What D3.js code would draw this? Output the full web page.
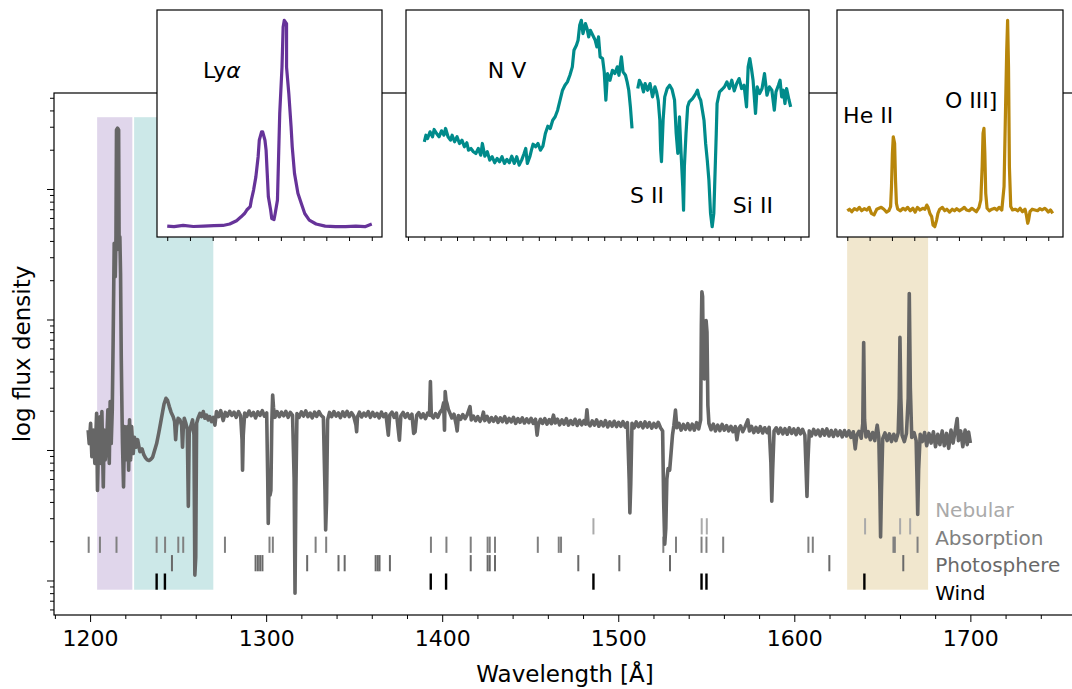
<!DOCTYPE html>
<html>
<head>
<meta charset="utf-8">
<script src="https://cdn.jsdelivr.net/npm/d3@7"></script>
<style>
  body { margin: 0; background: #fff; }
  text { font-family: "DejaVu Sans", sans-serif; }
</style>
</head>
<body>
<script>
// main spectrum: [wavelength (Å), flux (arb.)]
const spectrum = [
  [1198.9,1.42],[1199.5,1.12],[1200.3,1.60],[1201.0,0.89],[1201.8,1.42],[1202.7,0.79],[1203.7,1.91],[1204.2,0.49],
  [1204.8,1.12],[1205.6,1.80],[1206.1,0.79],[1206.7,1.97],[1207.5,0.52],[1208.0,1.42],[1208.6,0.84],[1209.4,1.12],
  [1210.1,2.03],[1210.9,0.79],[1211.4,2.35],[1212.0,1.12],[1212.6,2.03],[1213.1,6.97],[1213.7,38.3],[1214.3,21.3],
  [1214.7,43.1],[1215.0,283],[1215.6,292],[1216.2,283],[1216.5,34.1],[1216.9,43.1],[1217.3,22.6],[1217.7,5.19],
  [1218.1,2.03],[1218.4,1.12],[1219.0,0.52],[1219.6,1.51],[1220.1,0.84],[1220.7,1.12],[1221.3,1.51],[1221.9,0.70],
  [1222.4,1.70],[1223.0,0.84],[1223.6,1.51],[1224.1,1.12],[1224.5,0.94],
  [1225.2,1.25],[1226.0,1.05],[1227.0,1.20],[1228.3,0.97],[1229.5,1.02],[1230.5,0.92],[1231.5,0.87],[1232.5,0.84],
  [1233.5,0.83],[1234.5,0.85],[1235.5,0.88],[1236.5,0.98],[1237.8,1.12],[1239.0,1.35],[1240.0,1.60],[1241.0,1.90],
  [1242.0,2.25],[1243.1,2.49],[1244.0,2.40],[1245.0,2.15],[1246.0,1.95],[1247.2,1.80],[1248.0,1.65],[1248.6,1.20],
  [1249.1,1.51],[1250.0,1.75],[1251.0,1.70],[1252.0,1.55],[1252.5,1.05],[1252.9,1.42],[1253.5,1.75],[1254.4,1.60],
  [1255.2,1.45],[1255.8,0.37],[1256.3,1.35],[1257.1,1.51],[1258.2,1.70],[1259.0,1.30],[1259.5,0.11],[1260.0,0.15],
  [1260.5,1.60],[1261.3,1.75],[1262.4,1.91],[1263.3,1.80],[1264.3,1.97],[1265.2,1.75],[1266.2,1.85],[1267.1,1.70],
  [1268.0,1.80],[1269.0,1.65],[1270.0,1.78],[1270.9,1.55],
  [1271.8,1.97],[1273.0,1.80],[1274.2,2.00],[1275.6,1.68],[1276.8,1.94],[1278.0,1.82],[1279.3,1.98],[1280.5,1.84],
  [1281.8,1.95],[1283.0,1.78],[1284.3,1.97],[1285.5,1.83],[1286.3,1.20],[1286.6,0.70],[1287.0,1.30],[1287.8,1.92],
  [1289.0,1.81],[1290.3,1.99],[1291.5,1.83],[1292.8,1.94],[1294.0,1.76],[1295.3,1.96],[1296.5,1.84],[1297.8,2.00],
  [1299.0,1.82],[1300.3,1.92],[1300.9,0.60],[1301.2,0.274],[1301.7,0.60],[1302.2,0.45],[1302.7,0.49],[1303.2,1.60],
  [1303.7,2.64],[1304.2,2.10],[1305.0,1.78],[1306.2,1.97],[1307.5,1.80],[1308.7,1.95],[1310.0,1.83],[1311.2,1.98],
  [1312.5,1.78],[1313.7,1.94],[1315.0,1.84],[1315.9,0.60],[1316.4,0.080],[1316.9,0.50],[1317.5,1.90],[1318.7,1.78],
  [1320.0,1.96],[1321.2,1.82],[1322.5,1.99],[1323.7,1.80],[1325.0,1.92],[1326.2,1.76],[1327.5,1.95],[1328.7,1.81],
  [1330.0,1.97],[1331.2,1.84],[1332.5,1.78],[1333.4,0.50],[1333.8,0.244],[1334.3,0.40],[1334.9,1.70],[1336.0,1.94],
  [1337.2,1.80],[1338.5,1.97],[1339.7,1.82],[1341.0,1.92],[1342.2,1.77],[1343.5,1.96],[1344.7,1.81],[1346.0,1.98],
  [1347.2,1.80],[1348.5,1.93],[1349.7,1.82],[1351.0,1.55],[1351.4,1.38],[1351.9,1.80],[1353.0,1.95],[1354.2,1.79],
  [1355.5,1.92],[1356.7,1.82],[1358.0,1.97],[1359.2,1.78],[1360.5,1.94],[1361.7,1.81],[1363.0,1.91],[1364.2,1.76],
  [1365.5,1.95],[1366.7,1.80],[1368.0,1.90],[1369.4,1.30],[1370.2,1.85],[1371.5,1.95],[1372.7,1.78],[1374.0,1.92],
  [1375.7,1.19],[1376.5,1.82],[1377.8,1.94],[1379.0,1.78],[1380.3,1.90],[1381.5,1.75],[1382.8,1.88],[1383.8,1.34],
  [1384.6,1.38],[1385.5,1.84],[1386.7,1.93],[1388.0,1.77],[1389.2,1.89],[1390.5,1.74],[1391.7,1.92],[1392.8,1.85],
  [1393.3,3.34],[1393.8,1.85],[1395.0,1.76],[1396.2,1.90],[1397.5,1.78],[1398.7,1.94],[1400.0,2.05],[1400.8,2.30],
  [1401.3,1.42],[1401.7,2.80],[1402.2,2.40],[1402.8,2.25],[1403.5,2.05],[1404.5,1.90],[1405.5,1.76],[1406.7,1.88],
  [1408.0,1.55],[1408.5,1.40],[1409.2,1.84],[1410.5,1.72],[1411.7,1.87],[1413.0,1.74],[1414.2,1.86],[1415.8,2.15],
  [1416.5,1.70],[1417.7,1.82],[1419.0,1.68],[1420.2,1.80],[1421.5,1.66],[1422.7,1.78],[1423.4,1.95],[1424.2,1.68],
  [1425.5,1.81],[1426.7,1.64],[1428.0,1.77],[1429.2,1.66],[1430.5,1.79],[1431.7,1.63],[1433.0,1.76],[1434.2,1.65],
  [1435.5,1.80],[1436.7,1.62],[1438.0,1.75],[1439.2,1.64],[1440.5,1.78],[1441.7,1.60],[1443.0,1.74],[1444.2,1.63],
  [1445.5,1.76],[1446.7,1.61],[1448.0,1.73],[1449.2,1.62],[1450.5,1.75],[1451.7,1.60],[1453.0,1.72],[1453.9,1.30],
  [1454.6,1.56],[1455.8,1.72],[1457.0,1.60],[1458.3,1.74],[1459.5,1.58],[1460.8,1.71],[1462.0,1.59],[1463.2,1.85],
  [1464.2,1.61],[1465.5,1.72],[1466.7,1.56],[1468.0,1.70],[1469.2,1.58],[1470.5,1.74],[1471.7,1.55],[1473.0,1.68],
  [1474.2,1.57],[1475.5,1.72],[1476.7,1.54],[1478.0,1.69],[1479.2,1.56],[1480.5,1.68],[1481.5,1.58],[1482.2,2.03],
  [1482.9,1.60],[1484.0,1.53],[1485.2,1.67],[1486.5,1.55],[1487.7,1.70],[1489.0,1.52],[1490.2,1.65],[1491.5,1.53],
  [1492.7,1.68],[1494.0,1.50],[1495.2,1.64],[1496.5,1.52],[1497.7,1.66],[1499.0,1.51],[1500.2,1.63],[1501.5,1.52],
  [1502.7,1.65],[1504.0,1.50],[1505.2,1.62],[1506.2,0.60],[1506.6,0.33],[1507.1,0.55],[1507.8,1.60],[1509.0,1.48],
  [1510.2,1.64],[1511.5,1.51],[1512.7,1.62],[1514.0,1.48],[1515.2,1.64],[1516.5,1.50],[1517.7,1.62],[1519.0,1.47],
  [1520.2,1.60],[1521.5,1.49],[1522.7,1.63],[1524.0,1.48],[1525.2,1.40],[1525.8,0.40],[1526.4,0.19],[1527.0,0.25],
  [1527.6,0.60],[1528.3,0.72],[1529.2,0.70],[1530.0,0.95],[1530.8,1.30],[1531.6,1.55],[1532.5,2.02],[1533.3,1.48],
  [1534.5,1.60],[1535.7,1.42],[1537.0,1.57],[1538.2,1.44],[1539.5,1.59],[1540.7,1.43],[1542.0,1.58],[1543.2,1.42],
  [1544.5,1.62],[1545.7,1.45],[1546.8,1.70],[1547.2,9.0],[1547.5,16.3],[1547.9,15.0],[1548.3,5.0],[1548.9,3.5],
  [1549.4,8.0],[1549.9,9.8],[1550.4,8.0],[1550.9,2.2],[1551.5,1.60],[1552.7,1.43],[1554.0,1.58],[1555.2,1.40],
  [1556.5,1.55],[1557.7,1.41],[1559.0,1.57],[1560.2,1.42],[1561.5,1.54],[1562.7,1.40],[1564.0,1.52],[1565.2,1.38],
  [1566.5,1.51],[1567.4,1.20],[1568.3,1.45],[1569.5,1.53],[1570.7,1.38],[1572.0,1.50],[1573.6,1.70],[1574.5,1.40],
  [1575.7,1.52],[1577.0,1.36],[1578.2,1.49],[1579.5,1.37],[1580.7,1.51],[1582.0,1.35],[1583.2,1.48],[1584.5,1.36],
  [1585.7,1.49],[1586.7,0.80],[1587.2,0.405],[1587.7,0.70],[1588.5,1.40],[1589.7,1.48],[1591.0,1.34],[1592.2,1.47],
  [1593.5,1.33],[1594.7,1.46],[1596.0,1.32],[1597.2,1.48],[1598.5,1.34],[1599.7,1.45],[1601.0,1.31],[1602.2,1.46],
  [1603.5,1.33],[1604.7,1.44],[1606.0,1.30],[1606.7,0.70],[1607.2,0.44],[1607.7,0.80],[1608.5,1.40],[1609.7,1.28],
  [1611.0,1.44],[1612.2,1.31],[1613.5,1.42],[1614.7,1.28],[1616.0,1.43],[1617.2,1.30],[1618.5,1.45],[1619.7,1.28],
  [1621.0,1.41],[1622.2,1.27],[1623.5,1.42],[1624.7,1.29],[1626.0,1.40],[1627.2,1.26],[1628.5,1.41],[1629.7,1.28],
  [1631.0,1.40],[1632.2,1.25],[1633.5,1.38],[1634.6,1.02],[1635.5,1.30],[1636.7,1.39],[1638.0,1.23],[1638.9,1.60],
  [1639.4,6.67],[1639.9,1.70],[1640.7,1.26],[1642.0,1.38],[1643.2,1.20],[1644.5,1.36],[1645.7,1.18],[1647.1,1.55],
  [1648.0,1.25],[1648.6,0.50],[1649.0,0.216],[1649.5,0.50],[1650.2,1.22],[1651.5,1.35],[1652.7,1.18],[1654.0,1.33],
  [1655.2,1.16],[1656.5,1.32],[1657.7,1.18],[1659.0,1.35],[1659.6,2.5],[1660.0,7.29],[1660.5,2.5],[1661.2,1.30],
  [1662.5,1.16],[1663.7,1.34],[1664.7,2.5],[1665.3,15.8],[1665.9,3.0],[1666.7,1.25],[1668.0,1.36],[1669.2,1.18],
  [1669.7,0.60],[1670.1,0.32],[1670.6,0.70],[1671.5,1.32],[1672.7,1.16],[1674.0,1.36],[1675.2,1.08],[1676.5,1.34],
  [1677.7,1.13],[1679.0,1.38],[1680.2,1.06],[1681.5,1.32],[1682.7,1.10],[1684.0,1.40],[1685.2,1.08],[1686.5,1.34],
  [1687.7,1.03],[1689.0,1.42],[1690.2,1.13],[1691.5,1.44],[1692.5,1.74],[1693.2,1.18],[1694.5,1.40],[1695.7,1.06],
  [1697.0,1.42],[1698.2,1.10],[1699.0,1.37],[1700.0,1.13]
];

// inset spectra (normalised flux)
const lyaSpec = [
  [1206.0,1.00],[1206.6,0.97],[1207.4,1.03],[1208.3,0.98],[1209.2,1.00],[1210.1,1.02],[1210.9,1.03],[1211.5,1.10],
  [1212.1,1.26],[1212.5,1.45],[1212.8,1.61],[1213.0,1.78],[1213.3,1.94],[1213.4,2.26],[1213.6,2.75],[1213.8,3.39],
  [1214.0,4.37],[1214.1,5.17],[1214.3,5.58],[1214.4,5.58],[1214.6,5.17],[1214.7,4.69],[1214.8,3.56],[1214.9,2.42],
  [1215.1,1.78],[1215.2,1.37],[1215.4,1.32],[1215.5,1.61],[1215.7,2.26],[1215.8,4.37],[1215.9,6.47],[1216.1,8.73],
  [1216.2,10.68],[1216.3,11.00],[1216.5,10.84],[1216.5,8.73],[1216.7,7.44],[1216.9,5.82],[1217.0,4.85],[1217.2,3.56],
  [1217.5,2.59],[1217.8,2.10],[1218.1,1.61],[1218.5,1.29],[1219.1,1.10],[1219.9,1.00],[1220.8,0.97],[1221.7,0.97],
  [1222.6,1.00],[1223.4,0.97],[1224.0,1.10]
];

const nvSpec = [
  [1225.0,0.917],[1225.2,0.983],[1225.4,0.950],[1225.7,1.017],[1226.0,0.967],[1226.2,1.040],[1226.5,1.000],[1226.8,0.967],
  [1227.1,1.027],[1227.4,0.983],[1227.6,1.050],[1227.9,0.967],[1228.2,0.933],[1228.4,0.983],[1228.7,0.917],[1229.0,0.967],
  [1229.3,0.900],[1229.6,0.933],[1229.9,0.867],[1230.2,0.907],[1230.4,0.833],[1230.7,0.850],[1231.0,0.817],[1231.3,0.800],
  [1231.6,0.850],[1231.9,0.783],[1232.1,0.900],[1232.4,0.773],[1232.7,0.817],[1233.0,0.733],[1233.3,0.767],[1233.6,0.707],
  [1233.9,0.750],[1234.2,0.717],[1234.5,0.767],[1234.8,0.700],[1235.1,0.740],[1235.4,0.707],[1235.7,0.773],[1236.0,0.700],
  [1236.3,0.767],[1236.6,0.683],[1236.9,0.733],[1237.2,0.800],[1237.4,0.850],[1237.6,0.700],[1237.9,0.767],[1238.1,0.833],
  [1238.3,0.893],[1238.6,0.867],[1238.9,0.900],[1239.2,0.833],[1239.5,0.873],[1239.8,1.000],[1240.1,1.073],[1240.4,1.050],
  [1240.7,1.133],[1241.0,1.167],[1241.3,1.233],[1241.6,1.333],[1241.9,1.433],[1242.2,1.483],[1242.5,1.517],[1242.8,1.583],
  [1243.1,1.667],[1243.3,1.833],[1243.6,1.883],[1243.8,1.933],[1244.0,2.083],[1244.2,2.133],[1244.4,2.000],[1244.7,2.100],
  [1244.9,2.050],[1245.1,1.967],[1245.3,2.033],[1245.6,1.983],[1245.9,1.933],[1246.1,1.867],[1246.3,1.967],[1246.5,1.767],
  [1246.8,1.750],[1247.0,1.617],[1247.2,1.333],[1247.4,1.600],[1247.7,1.533],[1248.0,1.633],[1248.3,1.600],[1248.6,1.667],
  [1248.8,1.583],[1249.1,1.767],[1249.3,1.617],[1249.6,1.583],[1249.8,1.517],[1250.0,1.433],[1250.2,1.267],[1250.4,1.050],
  [1250.7,null],
  [1251.1,1.450],[1251.3,1.533],[1251.6,1.483],[1251.8,1.417],[1252.0,1.500],[1252.3,1.433],[1252.6,1.500],[1252.9,1.367],
  [1253.2,1.467],[1253.4,1.417],[1253.6,1.333],[1253.8,1.133],[1253.9,0.833],[1254.0,0.717],[1254.2,1.133],[1254.4,1.367],
  [1254.7,1.450],[1255.0,1.483],[1255.3,1.440],[1255.6,1.333],[1255.8,1.000],[1256.0,0.800],[1256.2,1.167],[1256.4,0.800],
  [1256.6,0.467],[1256.7,0.233],[1256.8,0.667],[1257.0,1.000],[1257.2,1.267],[1257.4,1.317],[1257.8,1.350],[1258.2,1.400],
  [1258.4,1.433],[1258.6,1.367],[1258.8,1.333],[1259.0,1.233],[1259.2,1.133],[1259.4,0.900],[1259.6,0.733],[1259.8,0.533],
  [1260.0,0.200],[1260.2,0.067],[1260.4,0.200],[1260.5,0.467],[1260.7,1.000],[1260.8,1.300],[1261.1,1.417],[1261.4,1.440],
  [1261.7,1.467],[1262.0,1.517],[1262.3,1.450],[1262.6,1.533],[1262.9,1.427],[1263.2,1.500],[1263.5,1.550],[1263.8,1.450],
  [1264.1,1.483],[1264.4,1.267],[1264.6,1.667],[1264.8,1.750],[1265.0,1.650],[1265.2,1.533],[1265.5,1.200],[1265.7,1.467],
  [1266.0,1.400],[1266.3,1.450],[1266.6,1.600],[1266.9,1.383],[1267.2,1.467],[1267.5,1.433],[1267.8,1.233],[1268.0,1.417],
  [1268.3,1.483],[1268.5,1.533],[1268.7,1.367],[1268.9,1.433],[1269.1,1.300],[1269.3,1.450],[1269.6,1.333],[1269.8,1.267]
];

const heSpec = [
  [1630.0,0.96],[1630.5,1.04],[1631.0,0.91],[1631.6,1.07],[1632.2,1.00],[1632.7,1.14],[1633.2,0.96],[1633.8,1.07],
  [1634.4,1.00],[1634.9,1.14],[1635.4,0.82],[1636.0,0.74],[1636.6,1.04],[1637.1,1.09],[1637.6,1.14],[1638.2,1.04],
  [1638.8,0.89],[1639.3,0.96],[1639.7,1.18],[1639.9,2.23],[1640.1,3.98],[1640.3,4.86],[1640.6,4.51],[1640.8,2.58],
  [1641.0,1.35],[1641.3,1.04],[1641.9,0.96],[1642.5,1.09],[1643.0,1.00],[1643.5,1.14],[1644.1,0.96],[1644.7,1.09],
  [1645.2,0.89],[1645.7,1.14],[1646.3,1.00],[1646.9,1.09],[1647.4,1.04],[1647.8,1.26],[1648.1,1.14],[1648.5,0.82],
  [1648.9,0.65],[1649.2,0.21],[1649.6,0.12],[1650.0,0.47],[1650.3,0.82],[1650.7,1.04],[1651.3,1.14],[1651.8,0.96],
  [1652.3,1.04],[1652.9,0.89],[1653.5,1.04],[1654.0,0.96],[1654.5,1.07],[1655.1,0.96],[1655.7,1.04],[1656.2,1.14],
  [1656.7,1.00],[1657.3,0.96],[1657.9,1.09],[1658.4,1.00],[1658.9,0.91],[1659.5,1.14],[1659.9,1.53],[1660.2,3.28],
  [1660.4,5.04],[1660.6,5.30],[1660.8,3.98],[1661.0,1.88],[1661.3,1.09],[1661.8,0.96],[1662.4,1.04],[1663.0,1.09],
  [1663.5,1.00],[1664.0,1.14],[1664.6,1.00],[1665.1,2.23],[1665.4,5.91],[1665.7,9.42],[1665.9,11.00],[1666.1,8.54],
  [1666.3,3.28],[1666.6,1.18],[1667.0,1.00],[1667.6,1.04],[1668.2,0.96],[1668.7,1.09],[1669.2,0.91],[1669.8,1.04],
  [1670.1,0.74],[1670.4,0.30],[1670.6,0.47],[1670.9,0.91],[1671.4,1.04],[1672.0,1.00],[1672.6,0.96],[1673.1,1.07],
  [1673.6,1.00],[1674.2,1.09],[1674.5,1.04],[1675.0,0.89],[1675.5,1.00],[1676.0,0.82]
];

// highlighted windows (Å)
const lyaWindow = [1204, 1224];
const nvWindow = [1225, 1270];
const heWindow = [1630, 1676];
const windowFlux = [0.085, 355];

// line lists (Å)
const rowNames = ["Nebular", "Absorption", "Photosphere", "Wind"];
const nebularLines = [1485.9, 1547.4, 1550.3, 1640.2, 1660.1, 1665.8];
const absorptionLines = [1199.2, 1205.6, 1215.0, 1237.8, 1242.6, 1250.1, 1252.9, 1276.6, 1301.9, 1303.8, 1328.1,
  1334.1, 1393.6, 1402.4, 1416.2, 1425.8, 1427.0, 1430.0, 1454.3, 1466.2, 1467.5, 1525.6, 1532.8, 1547.3, 1550.1,
  1559.6, 1608.0, 1610.5, 1656.3, 1657.1, 1670.0];
const photosphereLines = [1246.5, 1294.0, 1295.3, 1296.6, 1297.9, 1323.3, 1341.1, 1344.6, 1362.2, 1363.4, 1364.4,
  1370.3, 1416.2, 1425.8, 1427.0, 1430.0, 1477.3, 1500.6, 1529.4, 1619.9, 1661.9];
const windLines = [1237.8, 1242.5, 1393.5, 1402.2, 1485.9, 1547.3, 1550.1, 1639.8];
const rowLabelFlux = [0.308, 0.187, 0.117, 0.071];

// ticks
const xMajorTicks = [1200, 1300, 1400, 1500, 1600, 1700];
const xMinorTicks = [1180, 1220, 1240, 1260, 1280, 1320, 1340, 1360, 1380, 1420, 1440, 1460, 1480,
  1520, 1540, 1560, 1580, 1620, 1640, 1660, 1680, 1720, 1740, 1760];
const yMajorTicks = [0.1, 1, 10, 100];
const yMinorTicks = [0.06, 0.07, 0.08, 0.09, 0.2, 0.3, 0.4, 0.5, 0.6, 0.7, 0.8, 0.9, 2, 3, 4, 5, 6, 7, 8, 9,
  20, 30, 40, 50, 60, 70, 80, 90, 200, 300, 400, 500];
const lyaTicks = [1206, 1208, 1210, 1212, 1214, 1216, 1218, 1220, 1222, 1224];
const nvTicks = [1223, 1225, 1227, 1229, 1231, 1233, 1235, 1237, 1239, 1241, 1243, 1245, 1247, 1249, 1251,
  1253, 1255, 1257, 1259, 1261, 1263, 1265, 1267, 1269, 1271];
const heTicks = [1630, 1635, 1640, 1645, 1650, 1655, 1660, 1665, 1670, 1675];

const width = 1072, height = 689;
const margin = {top: 93, right: -4, bottom: 74, left: 54};

const svg = d3.select("body").append("svg")
    .attr("width", width)
    .attr("height", height)
    .attr("viewBox", [0, 0, width, height]);

const x = d3.scaleLinear()
    .domain([1179.5, 1760])
    .range([margin.left, width - margin.right]);
const y = d3.scaleLog()
    .domain([0.0544, 544])
    .range([height - margin.bottom, margin.top]);

const purple = "#663399", teal = "#008b8b", gold = "#b8860b";

// shaded windows
svg.append("g")
  .selectAll("rect")
  .data([[lyaWindow, purple], [nvWindow, teal], [heWindow, gold]])
  .join("rect")
    .attr("x", d => x(d[0][0]))
    .attr("width", d => x(d[0][1]) - x(d[0][0]))
    .attr("y", y(windowFlux[1]))
    .attr("height", y(windowFlux[0]) - y(windowFlux[1]))
    .attr("fill", d => d[1])
    .attr("fill-opacity", 0.2);

// line-list ticks
const row = d3.scaleBand()
    .domain(rowNames)
    .range([y(0.30), y(0.085)])
    .paddingInner(0.12);
const rowColor = d3.scaleOrdinal()
    .domain(rowNames)
    .range(["#aaaaaa", "#808080", "#696969", "#000000"]);
const rowLines = [
  ["Nebular", nebularLines], ["Absorption", absorptionLines],
  ["Photosphere", photosphereLines], ["Wind", windLines]
];

svg.append("g")
  .selectAll("g")
  .data(rowLines)
  .join("g")
    .attr("stroke", d => rowColor(d[0]))
    .attr("stroke-width", d => d[0] === "Wind" ? 2.4 : 2)
  .selectAll("line")
  .data(d => d[1].map(w => [d[0], w]))
  .join("line")
    .attr("x1", d => x(d[1]))
    .attr("x2", d => x(d[1]))
    .attr("y1", d => row(d[0]))
    .attr("y2", d => row(d[0]) + row.bandwidth());

// spectrum
svg.append("path")
    .datum(spectrum)
    .attr("fill", "none")
    .attr("stroke", "#666666")
    .attr("stroke-width", 3.6)
    .attr("stroke-linejoin", "round")
    .attr("d", d3.line().x(d => x(d[0])).y(d => y(d[1])));

// row labels
svg.append("g")
  .selectAll("text")
  .data(rowNames)
  .join("text")
    .attr("x", x(1680))
    .attr("y", (d, i) => y(rowLabelFlux[i]))
    .attr("font-size", 20)
    .attr("fill", d => rowColor(d))
    .text(d => d);

// axes
svg.append("g")
    .attr("transform", `translate(0,${height - margin.bottom})`)
    .call(d3.axisBottom(x).tickValues(xMinorTicks).tickSize(4).tickFormat(""))
    .call(g => g.select(".domain").remove());
svg.append("g")
    .attr("transform", `translate(0,${height - margin.bottom})`)
    .call(d3.axisBottom(x).tickValues(xMajorTicks).tickSize(7).tickPadding(8).tickFormat(d3.format("d")))
    .call(g => g.select(".domain").remove())
    .call(g => g.selectAll("text").attr("font-size", 22).attr("fill", "#000").attr("font-family", "DejaVu Sans"))
    .call(g => g.selectAll("line").attr("stroke", "#000"));
svg.append("g")
    .attr("transform", `translate(${margin.left},0)`)
    .call(d3.axisLeft(y).tickValues(yMinorTicks).tickSize(4).tickFormat(""))
    .call(g => g.select(".domain").remove());
svg.append("g")
    .attr("transform", `translate(${margin.left},0)`)
    .call(d3.axisLeft(y).tickValues(yMajorTicks).tickSize(7).tickFormat(""))
    .call(g => g.select(".domain").remove());

svg.append("rect")
    .attr("x", margin.left)
    .attr("y", margin.top)
    .attr("width", width - margin.right - margin.left)
    .attr("height", height - margin.bottom - margin.top)
    .attr("fill", "none")
    .attr("stroke", "#000")
    .attr("stroke-width", 1.2);

svg.append("text")
    .attr("x", (margin.left + width - margin.right) / 2)
    .attr("y", 682)
    .attr("text-anchor", "middle")
    .attr("font-size", 23)
    .text("Wavelength [Å]");

svg.append("text")
    .attr("transform", `translate(30,${(margin.top + height - margin.bottom) / 2}) rotate(-90)`)
    .attr("text-anchor", "middle")
    .attr("font-size", 23)
    .text("log flux density");

// insets
const insets = [
  {data: lyaSpec, ticks: lyaTicks, color: purple, box: [157, 382, 10, 237],
   labels: [{t: "Ly", it: "α", fx: 0.204, fy: 0.30}]},
  {data: nvSpec, ticks: nvTicks, color: teal, box: [406, 809, 10, 237],
   labels: [{t: "N V", fx: 0.203, fy: 0.30}, {t: "S II", fx: 0.556, fy: 0.85}, {t: "Si II", fx: 0.811, fy: 0.894}]},
  {data: heSpec, ticks: heTicks, color: gold, box: [837, 1063, 10, 237],
   labels: [{t: "He II", fx: 0.027, fy: 0.498}, {t: "O III]", fx: 0.478, fy: 0.432}]}
];

insets.forEach(ins => {
  const [x0, x1, y0, y1] = ins.box;
  const g = svg.append("g");
  const xe = d3.extent(ins.data, d => d[0]);
  const ye = d3.extent(ins.data.filter(d => d[1] != null), d => d[1]);
  const px = (xe[1] - xe[0]) * 0.05, py = (ye[1] - ye[0]) * 0.05;
  const ix = d3.scaleLinear().domain([xe[0] - px, xe[1] + px]).range([x0, x1]);
  const iy = d3.scaleLinear().domain([ye[0] - py, ye[1] + py]).range([y1, y0]);

  g.append("rect")
      .attr("x", x0).attr("y", y0)
      .attr("width", x1 - x0).attr("height", y1 - y0)
      .attr("fill", "#fff");

  g.append("path")
      .datum(ins.data)
      .attr("fill", "none")
      .attr("stroke", ins.color)
      .attr("stroke-width", 3.2)
      .attr("stroke-linejoin", "round")
      .attr("d", d3.line().defined(d => d[1] != null).x(d => ix(d[0])).y(d => iy(d[1])));

  g.append("g")
      .attr("transform", `translate(0,${y1})`)
      .call(d3.axisBottom(ix).tickValues(ins.ticks).tickSize(4).tickFormat(""))
      .call(a => a.select(".domain").remove());

  g.append("rect")
      .attr("x", x0).attr("y", y0)
      .attr("width", x1 - x0).attr("height", y1 - y0)
      .attr("fill", "none")
      .attr("stroke", "#000")
      .attr("stroke-width", 1.2);

  ins.labels.forEach(l => {
    const t = g.append("text")
        .attr("x", x0 + l.fx * (x1 - x0))
        .attr("y", y0 + l.fy * (y1 - y0))
        .attr("font-size", 22)
        .text(l.t);
    if (l.it) t.append("tspan").attr("font-style", "italic").text(l.it);
  });
});
</script>
</body>
</html>
